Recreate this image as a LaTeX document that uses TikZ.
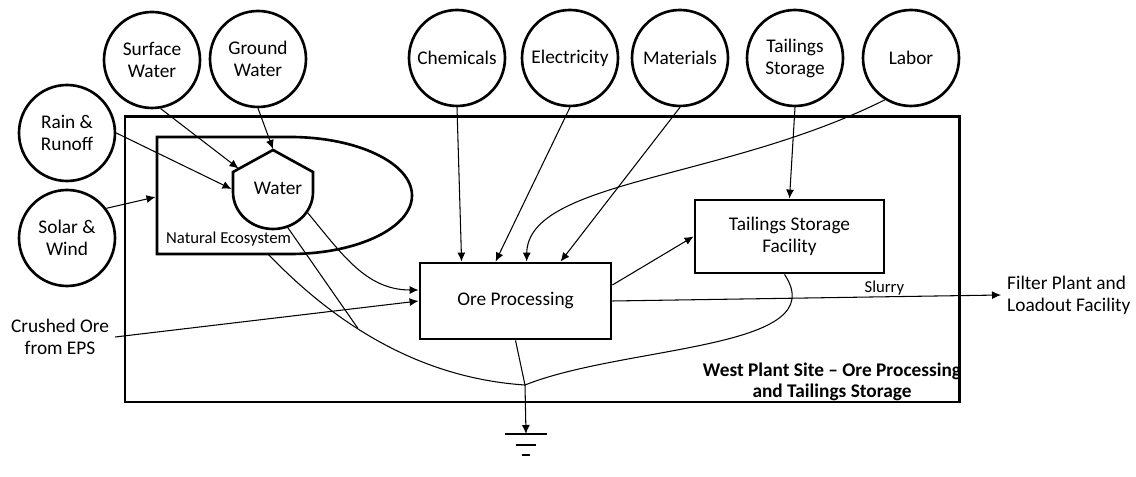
\documentclass[tikz,border=0pt]{standalone}
\usepackage{fontspec}
\setmainfont{Carlito}
\usetikzlibrary{positioning,arrows.meta,calc}

\begin{document}
\begin{tikzpicture}[
    >={Latex[length=1.8mm,width=1.6mm]},
    source/.style={circle, draw, line width=1.5pt, minimum size=1.92cm, inner sep=0pt, align=center, font=\fontsize{11}{12.5}\selectfont},
    unit/.style={rectangle, draw, line width=1.6pt, align=center, font=\fontsize{11}{12.5}\selectfont},
    txt/.style={align=center, font=\fontsize{11}{12.5}\selectfont},
    smalltxt/.style={font=\fontsize{9.5}{11}\selectfont},
    flow/.style={->, line width=0.6pt}
]
\useasboundingbox (0,0) rectangle (22.72,-9.54);

% === Site boundary ===
\draw[line width=1.7pt] (2.5,-2.34) rectangle (19.18,-8.04);
\node[txt, font=\fontsize{11}{12}\selectfont\bfseries] (site) at (16.64,-7.64) {West Plant Site -- Ore Processing\\and Tailings Storage};

% === Natural ecosystem with water ===
\draw[line width=1.5pt] (5.8,-5.08) -- (3.14,-5.08) -- (3.14,-2.74) -- (5.8,-2.74)
    arc[start angle=90, end angle=-90, x radius=2.44, y radius=1.17];
\node[smalltxt, anchor=west] (eco) at (3.2,-4.78) {Natural Ecosystem};
\draw[line width=1.5pt] (6.26,-3.84) -- (6.26,-3.44) -- (5.46,-3.0) -- (4.66,-3.44) -- (4.66,-3.84)
    arc[start angle=180, end angle=360, x radius=0.8, y radius=0.74];
\node[txt] (water) at (5.56,-3.76) {Water};

% Points on the shapes
\coordinate (apex) at (5.46,-2.98);
\coordinate (wshoulder) at (4.77,-3.37);
\coordinate (wside) at (4.63,-3.78);
\coordinate (wright) at (6.14,-4.24);
\coordinate (wbottom) at (5.74,-4.53);
\coordinate (ecoleft) at (3.11,-3.94);
\coordinate (ecobottom) at (5.36,-5.08);
\coordinate (merge) at (7.16,-6.57);
\coordinate (junc) at (10.5,-7.7);
\coordinate (gnd) at (10.52,-8.68);

% === Sources ===
\node[source] (sw) at (3.04,-1.2) {Surface\\Water};
\node[source] (gw) at (5.16,-1.18) {Ground\\Water};
\node[source] (rain) at (1.34,-2.66) {Rain \&\\Runoff};
\node[source] (solar) at (1.34,-4.76) {Solar \&\\Wind};
\node[source] (chem) at (9.14,-1.16) {Chemicals};
\node[source] (elec) at (11.4,-1.16) {Electricity};
\node[source] (mat) at (13.6,-1.16) {Materials};
\node[source] (ts) at (15.9,-1.16) {Tailings\\Storage};
\node[source] (labor) at (18.22,-1.16) {Labor};

% === Processes ===
\node[unit, minimum width=3.82cm, minimum height=1.52cm] (ore) at (10.31,-6.02) {Ore Processing};
\node[unit, minimum width=3.78cm, minimum height=1.46cm] (tsf) at (15.79,-4.73) {Tailings Storage\\Facility};
\node[txt] (crushed) at (1.2,-6.74) {Crushed Ore\\from EPS};
\node[txt, align=left, anchor=west] (filter) at (20.02,-5.9) {Filter Plant and\\Loadout Facility};

% === Inputs to water ===
\draw[flow] (sw.280) -- (wshoulder);
\draw[flow] (gw.south) -- (apex);
\draw[flow] (rain.east) -- (wside);
\draw[flow] (solar.37) -- (ecoleft);

% === Inputs to ore processing ===
\draw[flow] (chem.south) -- ([xshift=0.86cm]ore.north west);
\draw[flow] (elec.south) -- ([xshift=1.54cm]ore.north west);
\draw[flow] (mat.south) -- ([xshift=2.84cm]ore.north west);
\draw[flow] (labor.238) .. controls (14.5,-3.6) and (10.56,-3.6) .. ([xshift=2.16cm]ore.north west);
\draw[flow] (wright) to[out=-50, in=180] ([yshift=0.22cm]ore.west);
\draw[flow] (crushed.east) -- (ore.west);

% === Tailings and product ===
\draw[flow] (ts.south) -- (tsf.north);
\draw[flow] ([yshift=0.32cm]ore.east) -- (tsf.west);
\draw[flow] (ore.east) -- node[smalltxt, pos=0.7, above=-3pt] (slurry) {Slurry} (filter.west);

% === Losses to sink ===
\draw[line width=0.6pt] (ecobottom) .. controls (7.2,-7.0) and (9.0,-7.6) .. (junc);
\draw[line width=0.6pt] (wbottom) -- (merge);
\draw[line width=0.6pt] ([xshift=-0.1cm]tsf.south) .. controls (16.7,-7.0) and (12.5,-6.9) .. (junc);
\draw[line width=0.6pt] (ore.south) -- (junc);
\draw[flow] (junc) -- (gnd);
\draw[line width=0.8pt] ($(gnd)+(-0.42,0)$) -- ($(gnd)+(0.42,0)$);
\draw[line width=0.8pt] ($(gnd)+(-0.2,-0.22)$) -- ($(gnd)+(0.2,-0.22)$);
\draw[line width=0.8pt] ($(gnd)+(-0.08,-0.42)$) -- ($(gnd)+(0.08,-0.42)$);
\end{tikzpicture}
\end{document}
